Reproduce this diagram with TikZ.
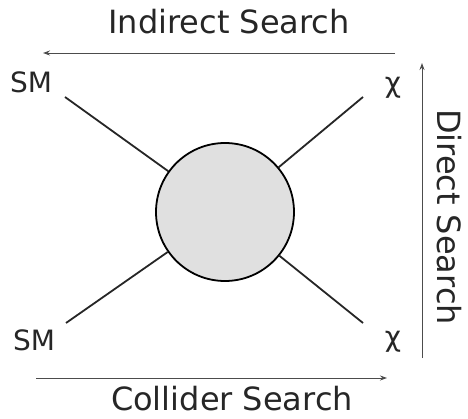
\documentclass[tikz,border=0pt]{standalone}
\usepackage{fontspec}
\setmainfont{DejaVu Sans}
\usetikzlibrary{arrows.meta}
\begin{document}
\begin{tikzpicture}[x=1pt,y=1pt,
  leg/.style={line width=1.8pt, draw=black!85},
  blob/.style={circle, draw=black, line width=1.8pt, fill=black!12, minimum size=138pt, inner sep=0pt},
  lbl/.style={font=\fontsize{28}{32}\selectfont, text=black!85},
  searcharrow/.style={line width=0.9pt, draw=black!70, -{Stealth[length=7pt,width=5pt]}},
  searchlbl/.style={font=\fontsize{32}{36}\selectfont, text=black!85}]
  \useasboundingbox (0,0) rectangle (468,418);
  % central interaction blob
  \node[blob] (c) at (225,206) {};
  % external legs
  \coordinate (tl) at (65,321);
  \coordinate (tr) at (363,321);
  \coordinate (bl) at (66,95);
  \coordinate (br) at (363,95);
  \draw[leg] (tl) -- (c);
  \draw[leg] (tr) -- (c);
  \draw[leg] (bl) -- (c);
  \draw[leg] (br) -- (c);
  % particle labels
  \node[lbl] (smt) at (31,336) {SM};
  \node[lbl] (chit) at (393,330) {χ};
  \node[lbl] (smb) at (34,78) {SM};
  \node[lbl] (chib) at (393,76) {χ};
  % search directions
  \coordinate (ia) at (395,365);
  \coordinate (ib) at (43,365);
  \draw[searcharrow] (ia) -- (ib);
  \node[searchlbl] (ind) at (229,396) {Indirect Search};
  \coordinate (ca) at (36,40);
  \coordinate (cb) at (387,40);
  \draw[searcharrow] (ca) -- (cb);
  \node[searchlbl] (col) at (232,19) {Collider Search};
  \coordinate (da) at (422,60);
  \coordinate (db) at (422,355);
  \draw[searcharrow] (da) -- (db);
  \node[searchlbl, rotate=-90] (dir) at (449,201) {Direct Search};
\end{tikzpicture}
\end{document}
